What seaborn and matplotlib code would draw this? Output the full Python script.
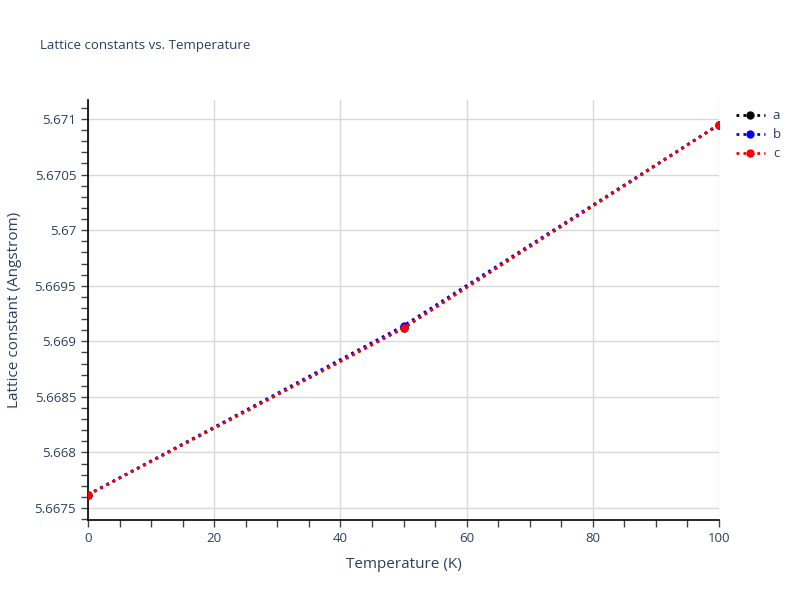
import matplotlib
matplotlib.use("Agg")
import matplotlib.pyplot as plt
import seaborn as sns
import pandas as pd
from matplotlib.ticker import MultipleLocator, FuncFormatter

temperature = [0, 50, 100]
a_vals = [5.66762, 5.66912, 5.67095]
b_vals = [5.66762, 5.66914, 5.67095]
c_vals = [5.66762, 5.66912, 5.67095]
series = ["a", "b", "c"]
colors = {"a": "black", "b": "blue", "c": "red"}

df = pd.DataFrame({
    "Temperature": temperature * 3,
    "value": a_vals + b_vals + c_vals,
    "series": ["a"] * 3 + ["b"] * 3 + ["c"] * 3,
})

sns.set_style("white")
plt.rcParams['font.family'] = ['Open Sans', 'DejaVu Sans']
txt = "#2a3f5f"

fig = plt.figure(figsize=(8, 6), dpi=100)
ax = fig.add_axes([0.11, 0.1333, 0.78875, 0.70])

for s in series:
    sub = df[df.series == s]
    sns.lineplot(data=sub, x="Temperature", y="value", ax=ax, color=colors[s],
                 linestyle=(0, (1, 1.5)), linewidth=2.0, marker="o", markersize=6,
                 markeredgewidth=0, label=s, zorder=3)

ax.set_xlim(0, 100)
ax.set_ylim(5.667392, 5.671171)
ax.xaxis.set_major_locator(MultipleLocator(20))
ax.xaxis.set_minor_locator(MultipleLocator(5))
ax.yaxis.set_major_locator(MultipleLocator(0.0005))
ax.yaxis.set_minor_locator(MultipleLocator(0.0001))
ax.yaxis.set_major_formatter(FuncFormatter(lambda v, p: f"{round(v, 6):g}"))
ax.xaxis.set_major_formatter(FuncFormatter(lambda v, p: f"{v:g}"))

ax.grid(True, which="major", color="#d9d9d9", linewidth=1)
ax.set_axisbelow(True)
for side in ["top", "right"]:
    ax.spines[side].set_visible(False)
for side in ["left", "bottom"]:
    ax.spines[side].set_color("black")
    ax.spines[side].set_linewidth(1.2)

ax.tick_params(axis="both", which="major", direction="out", length=5, width=1,
               color="#444444", labelcolor=txt, labelsize=9.5, left=True, bottom=True)
ax.tick_params(axis="both", which="minor", direction="out", length=5, width=1,
               color="#444444", left=True, bottom=True)

ax.set_xlabel("Temperature (K)", color=txt, fontsize=11, labelpad=9)
ax.set_ylabel("Lattice constant (Angstrom)", color=txt, fontsize=11, labelpad=9)
fig.text(0.05, 0.925, "Lattice constants vs. Temperature", color=txt, fontsize=9.5,
         ha="left", va="center")

leg = ax.legend(loc="upper left", bbox_to_anchor=(1.012, 1.0), frameon=False,
                fontsize=9.5, labelcolor=txt, handlelength=2.2, borderaxespad=0.3,
                labelspacing=0.45, handletextpad=0.6)

fig.savefig("out.png", dpi=100)
